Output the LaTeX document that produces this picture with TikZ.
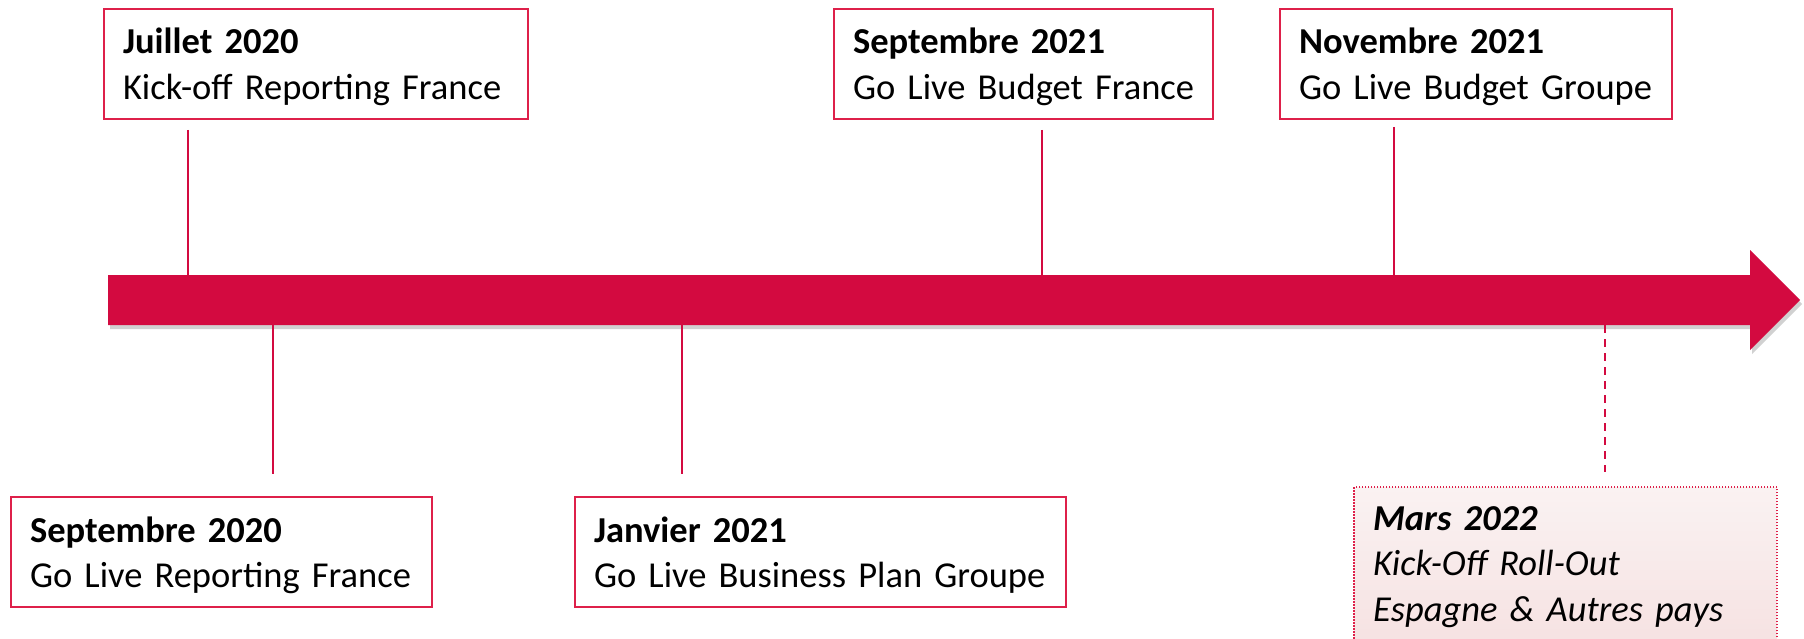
\documentclass[tikz,border=0pt]{standalone}
\usepackage{fontspec}
\setmainfont{Carlito}
\usetikzlibrary{shadows}
\definecolor{arrowred}{RGB}{211,10,64}
\definecolor{boxred}{RGB}{222,32,74}
\definecolor{gtop}{RGB}{250,242,242}
\definecolor{gmid}{RGB}{224,166,166}
\definecolor{gbot}{RGB}{244,218,218}
\newcommand{\evfont}{\fontsize{36.5}{45.5}\selectfont}
\begin{document}
\begin{tikzpicture}[x=1pt,y=-1pt,
  basebox/.style={draw=boxred, line width=2pt, anchor=north west,
    inner xsep=19pt, inner ysep=0pt},
  evbox/.style={basebox, fill=white, text height=45pt, text depth=65pt, font=\evfont},
  futbox/.style={basebox, top color=gtop, middle color=gmid, bottom color=gbot,
    dash pattern=on 1.5pt off 1.5pt, text height=43pt, text depth=191pt,
    font=\evfont\itshape},
  tick/.style={draw=arrowred, line width=2pt},
  futtick/.style={tick, dash pattern=on 8pt off 6pt},
]
\clip (0,0) rectangle (1804,639);
\fill[white] (0,0) rectangle (1804,639);
% timeline arrow
\fill[arrowred, drop shadow={shadow xshift=2pt, shadow yshift=-4pt, opacity=0.18, fill=black}]
  (108,275) -- (1750,275) -- (1750,250) -- (1800,300) -- (1750,350) -- (1750,325) -- (108,325) -- cycle;
\coordinate (atop) at (0,275);
\coordinate (abot) at (0,325);
% events
\node[evbox, text width=386pt] (b1) at (103,8) {\mbox{\textbf{Juillet 2020}}\\\mbox{Kick-off Reporting France}};
\node[evbox, text width=341pt] (b2) at (833,8) {\mbox{\textbf{Septembre 2021}}\\\mbox{Go Live Budget France}};
\node[evbox, text width=354pt] (b3) at (1279,8) {\mbox{\textbf{Novembre 2021}}\\\mbox{Go Live Budget Groupe}};
\node[evbox, text width=383pt] (b4) at (10,496) {\mbox{\textbf{Septembre 2020}}\\\mbox{Go Live Reporting France}};
\node[evbox, text width=453pt] (b5) at (574,496) {\mbox{\textbf{Janvier 2021}}\\\mbox{Go Live Business Plan Groupe}};
\node[futbox, text width=385pt] (b6) at (1353,486) {\mbox{\textbf{Mars 2022}}\\\mbox{Kick-Off Roll-Out}\\\mbox{Espagne \& Autres pays}};
% tick positions
\coordinate (x1) at (188,0);
\coordinate (x2) at (1042,0);
\coordinate (x3) at (1394,0);
\coordinate (x4) at (273,0);
\coordinate (x5) at (682,0);
\coordinate (x6) at (1605,0);
% connectors
\draw[tick] ([yshift=-10pt]b1.south -| x1) -- (x1 |- atop);
\draw[tick] ([yshift=-10pt]b2.south -| x2) -- (x2 |- atop);
\draw[tick] ([yshift=-7pt]b3.south -| x3) -- (x3 |- atop);
\draw[tick] (x4 |- abot) -- ([yshift=22pt]b4.north -| x4);
\draw[tick] (x5 |- abot) -- ([yshift=22pt]b5.north -| x5);
\draw[futtick] (x6 |- abot) -- ([yshift=14pt]b6.north -| x6);
\end{tikzpicture}
\end{document}
